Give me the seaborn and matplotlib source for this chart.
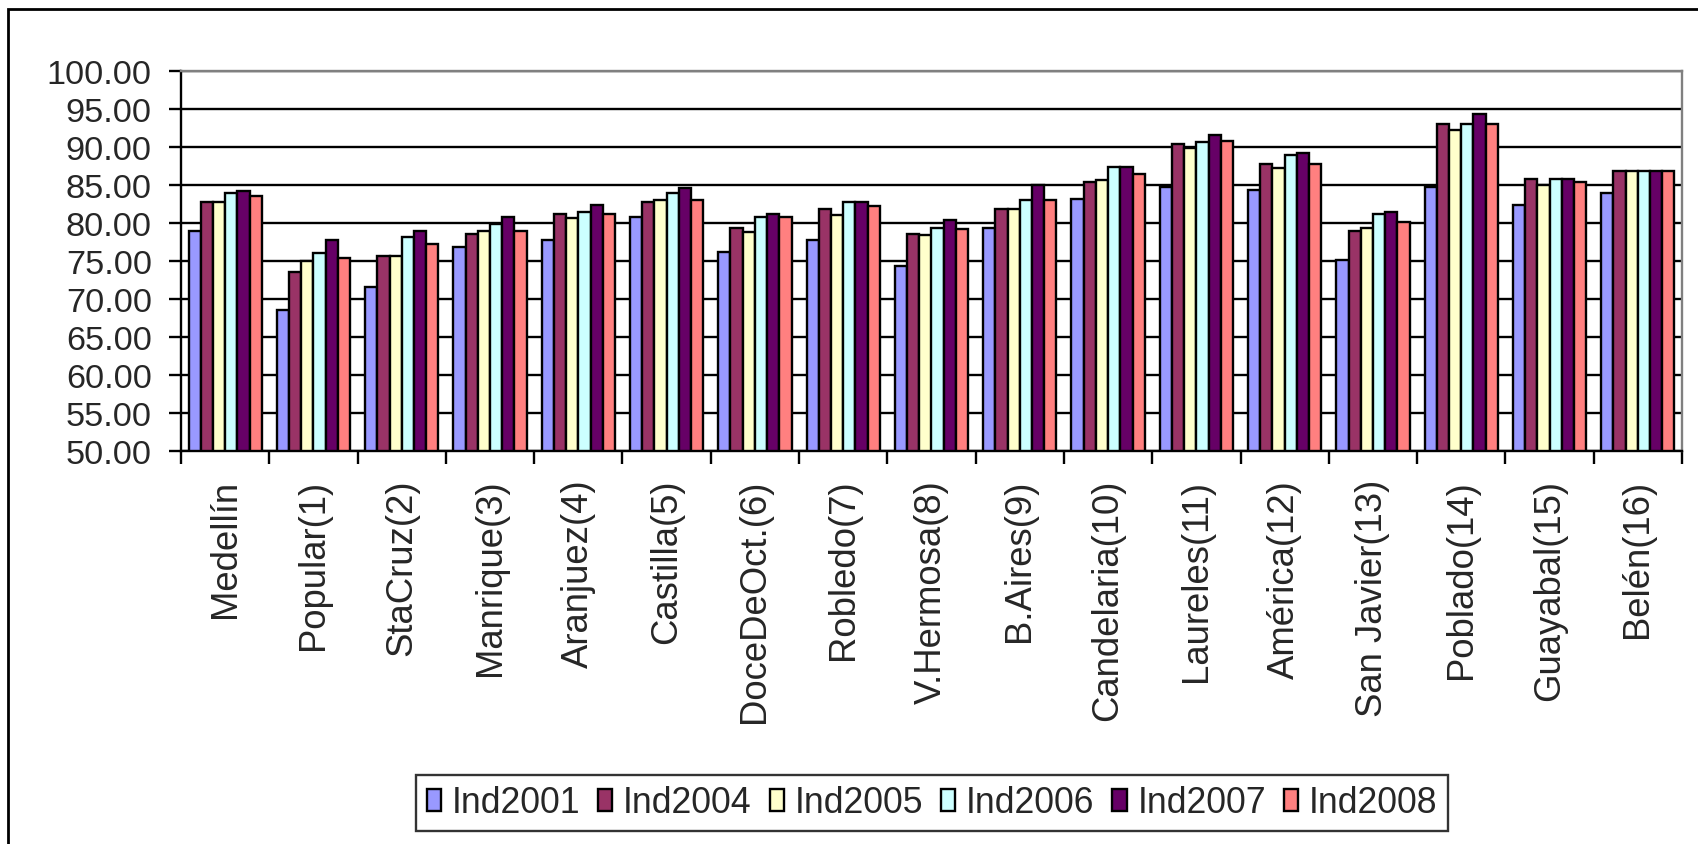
import numpy as np
import pandas as pd
import matplotlib
matplotlib.use("Agg")
import matplotlib.pyplot as plt
from matplotlib.patches import Rectangle, Patch
import seaborn as sns

zonas = ["Medellín", "Popular(1)", "StaCruz(2)", "Manrique(3)", "Aranjuez(4)",
         "Castilla(5)", "DoceDeOct.(6)", "Robledo(7)", "V.Hermosa(8)", "B.Aires(9)",
         "Candelaria(10)", "Laureles(11)", "América(12)", "San Javier(13)",
         "Poblado(14)", "Guayabal(15)", "Belén(16)"]

ind2001 = [78.9, 68.5, 71.6, 76.9, 77.7, 80.8, 76.2, 77.7, 74.3, 79.3, 83.1, 84.7, 84.3, 75.1, 84.7, 82.4, 83.9]
ind2004 = [82.7, 73.5, 75.7, 78.5, 81.2, 82.7, 79.3, 81.9, 78.5, 81.9, 85.4, 90.4, 87.7, 78.9, 93.0, 85.8, 86.9]
ind2005 = [82.7, 75.0, 75.7, 78.9, 80.7, 83.0, 78.8, 81.1, 78.4, 81.9, 85.7, 89.9, 87.3, 79.3, 92.3, 85.0, 86.9]
ind2006 = [83.9, 76.1, 78.1, 79.9, 81.5, 83.9, 80.8, 82.7, 79.3, 83.0, 87.4, 90.7, 88.9, 81.2, 93.0, 85.8, 86.9]
ind2007 = [84.2, 77.7, 78.9, 80.8, 82.4, 84.6, 81.2, 82.7, 80.4, 85.0, 87.4, 91.6, 89.2, 81.5, 94.3, 85.8, 86.9]
ind2008 = [83.5, 75.4, 77.3, 78.9, 81.2, 83.0, 80.8, 82.3, 79.2, 83.0, 86.5, 90.8, 87.7, 80.1, 93.0, 85.4, 86.9]

series = ["Ind2001", "Ind2004", "Ind2005", "Ind2006", "Ind2007", "Ind2008"]
colores = ["#9999FF", "#993366", "#FFFFCC", "#CCFFFF", "#660066", "#FF8080"]

valores = [ind2001, ind2004, ind2005, ind2006, ind2007, ind2008]
df = pd.concat([pd.DataFrame({"zona": zonas, "valor": v, "serie": s})
                for s, v in zip(series, valores)], ignore_index=True)

sns.set_style("white")
plt.rcParams["font.family"] = ["Liberation Sans", "DejaVu Sans"]
plt.rcParams["font.size"] = 24.5

fig = plt.figure(figsize=(16.98, 8.45), dpi=100)
ax = fig.add_axes([181 / 1698, 1 - 452 / 845, (1682 - 181) / 1698, (452 - 72) / 845])

sns.barplot(data=df, x="zona", y="valor", hue="serie", palette=colores,
            hue_order=series, order=zonas, width=0.83, edgecolor="black",
            linewidth=1.7, saturation=1, ax=ax, legend=False)

ax.set_ylim(50, 100)
ax.set_xlim(-0.5, len(zonas) - 0.5)
ax.set_yticks(np.arange(50, 101, 5))
ax.set_yticklabels([f"{v:.2f}" for v in np.arange(50, 101, 5)], fontsize=24.7)
ax.yaxis.grid(True, color="black", linewidth=1.7)
ax.set_axisbelow(True)
ax.set_xlabel("")
ax.set_ylabel("")

ax.set_xticks(range(len(zonas)))
ax.set_xticklabels(zonas, rotation=90, fontsize=26.3)
ax.set_xticks(np.arange(-0.5, len(zonas), 1), minor=True)
ax.tick_params(axis="x", which="major", length=0, pad=20)
ax.tick_params(axis="x", which="minor", length=9, width=1.7, direction="out", color="black", bottom=True)
ax.tick_params(axis="y", length=9, width=1.7, direction="out", color="black", pad=12, left=True)

for side in ["left", "bottom"]:
    ax.spines[side].set_color("black")
    ax.spines[side].set_linewidth(1.7)
for side in ["top", "right"]:
    ax.spines[side].set_color("#808080")
    ax.spines[side].set_linewidth(1.7)

handles = [Patch(facecolor=c, edgecolor="black", linewidth=1.7) for c in colores]
leg = fig.legend(handles, series, loc="center", bbox_to_anchor=(932 / 1698, 1 - 804 / 845),
                 ncol=6, frameon=True, fancybox=False, handlelength=0.4, handleheight=0.6,
                 handletextpad=0.3, columnspacing=0.5, borderpad=0.3, fontsize=25.7)
leg.get_frame().set_edgecolor("black")
leg.get_frame().set_linewidth(1.7)

# outer chart border (right and bottom edges fall outside the image)
fig.patches.append(Rectangle((8 / 1698, -0.1), 1.2, 1 - 10 / 845 + 0.1,
                             transform=fig.transFigure, fill=False,
                             edgecolor="black", linewidth=2))

fig.savefig("out.png", dpi=100)
